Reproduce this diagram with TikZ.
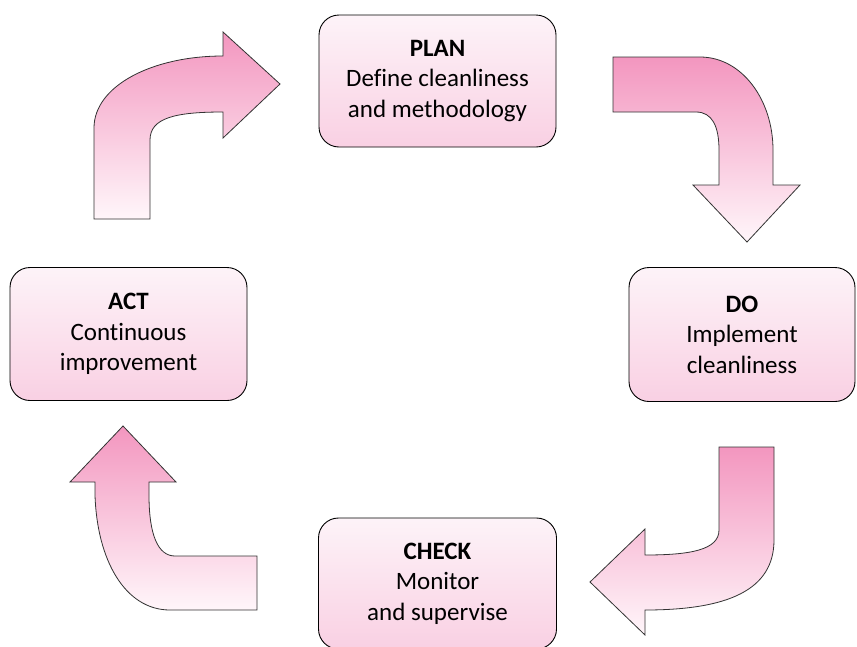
\documentclass[tikz,border=0pt]{standalone}
\usepackage{fontspec}
\setmainfont{Carlito}[Ligatures=CommonOff]
\definecolor{arrtop}{HTML}{F396BF}
\definecolor{arrbot}{HTML}{FFF6FA}
\definecolor{boxtop}{HTML}{FDF3F8}
\definecolor{boxbot}{HTML}{F9D0E3}
\definecolor{edge}{HTML}{333333}
\tikzset{
  stagebox/.style={draw=black, line width=0.9pt, rounded corners=20pt,
    top color=boxtop, bottom color=boxbot, align=center, inner sep=0pt,
    font=\fontsize{25}{30.5}\selectfont},
  bentarrow/.style={draw=edge, line width=0.8pt, top color=arrtop, bottom color=arrbot}
}
\begin{document}
\begin{tikzpicture}[x=1pt,y=-1pt]
\clip (0,0) rectangle (857,646);
\fill[white] (0,0) rectangle (857,646);
% stage boxes
\node[stagebox, minimum width=237pt, minimum height=132pt] (plan) at (437.5,81) {\textbf{PLAN}\\Define cleanliness\\and methodology};
\node[stagebox, minimum width=226pt, minimum height=134pt] (do) at (742,334.5) {\textbf{DO}\\Implement\\cleanliness};
\node[stagebox, minimum width=237pt, minimum height=133pt] (act) at (128.5,334) {\textbf{ACT}\\Continuous\\improvement};
\node[stagebox, minimum width=238pt, minimum height=131pt] (check) at (437.5,583.5) {\textbf{CHECK}\\Monitor\\and supervise};
% arrow ACT -> PLAN (up, then right)
\path[bentarrow] (94,219) -- (94,128) .. controls (94,86) and (152,56) .. (223,56)
  -- (223,32) -- (280,84) -- (223,138) -- (223,112)
  .. controls (175,112) and (150,118) .. (150,140) -- (150,219) -- cycle;
% arrow PLAN -> DO (right, then down)
\path[bentarrow] (613,57) -- (700,57) .. controls (742,57) and (773,100) .. (773,150)
  -- (773,185) -- (800,185) -- (747,242) -- (693,185) -- (719,185) -- (719,150)
  .. controls (719,126) and (712,112) .. (696,112) -- (613,112) -- cycle;
% arrow DO -> CHECK (down, then left)
\path[bentarrow] (719,447) -- (774,447) -- (774,540) .. controls (774,590) and (728,610) .. (645,610)
  -- (645,635) -- (590,582) -- (645,529) -- (645,555)
  .. controls (690,555) and (719,550) .. (719,530) -- cycle;
% arrow CHECK -> ACT (left, then up)
\path[bentarrow] (257,556) -- (175,556) .. controls (158,556) and (149,535) .. (149,495)
  -- (149,482) -- (176,482) -- (123,426) -- (70,482) -- (95,482) -- (95,495)
  .. controls (97,560) and (125,610) .. (170,610) -- (257,610) -- cycle;
\end{tikzpicture}
\end{document}
